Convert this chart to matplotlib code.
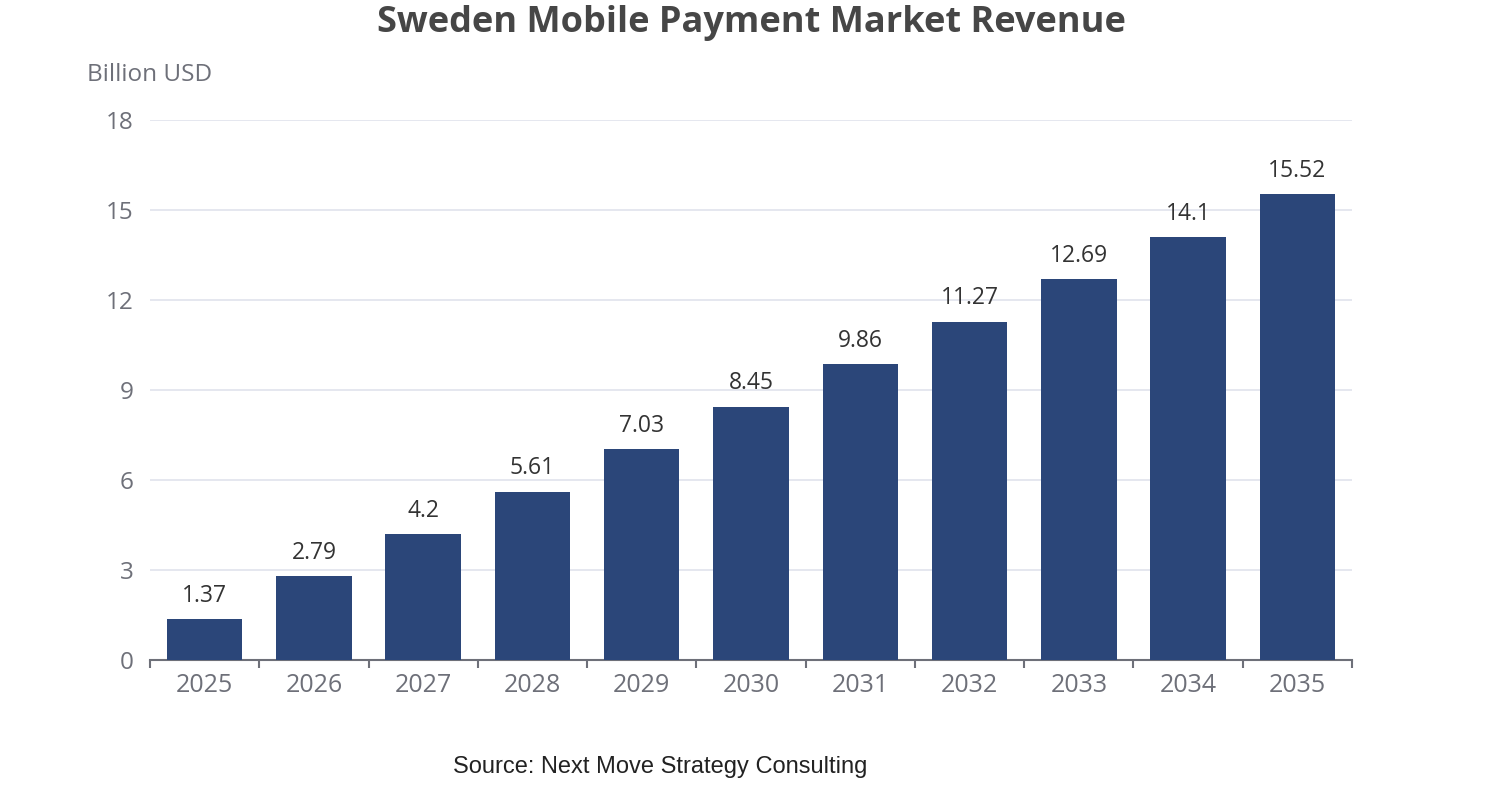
import matplotlib.pyplot as plt
import numpy as np

years = ['2025', '2026', '2027', '2028', '2029', '2030', '2031', '2032', '2033', '2034', '2035']
revenue = [1.37, 2.79, 4.2, 5.61, 7.03, 8.45, 9.86, 11.27, 12.69, 14.1, 15.52]
labels = ['1.37', '2.79', '4.2', '5.61', '7.03', '8.45', '9.86', '11.27', '12.69', '14.1', '15.52']
y_ticks = [0, 3, 6, 9, 12, 15, 18]

plt.rcParams['font.family'] = ['Open Sans', 'DejaVu Sans']

fig = plt.figure(figsize=(15.02, 8), dpi=100)
ax = fig.add_axes([150 / 1502, 140 / 800, 1202 / 1502, 540 / 800])

x = np.arange(len(years))
ax.bar(x, revenue, width=0.69, color='#2b4679', zorder=3)
for xi, v, t in zip(x, revenue, labels):
    ax.text(xi, v + 0.38, t, ha='center', va='bottom', fontsize=16.5, color='#333333')

ax.set_xlim(-0.5, len(years) - 0.5)
ax.set_ylim(0, 18)
ax.set_yticks(y_ticks)
ax.set_yticklabels([str(t) for t in y_ticks])
ax.yaxis.grid(True, color='#e0e3ec', linewidth=1.2, zorder=0)
ax.tick_params(axis='y', length=0, pad=12, labelsize=17.5, labelcolor='#6e7079')

# category ticks sit on the boundaries, labels in the middle
ax.set_xticks(np.arange(-0.5, len(years), 1.0))
ax.set_xticklabels([])
ax.set_xticks(x, minor=True)
ax.set_xticklabels(years, minor=True)
ax.tick_params(axis='x', which='major', length=6, width=1.5, color='#6e7079', direction='out')
ax.tick_params(axis='x', which='minor', length=0, pad=9, labelsize=18, labelcolor='#6e7079')

for s in ['top', 'right', 'left']:
    ax.spines[s].set_visible(False)
ax.spines['bottom'].set_color('#6e7079')
ax.spines['bottom'].set_linewidth(1.5)

fig.text(150 / 1502, 1 - 75 / 800, 'Billion USD', ha='center', va='center', fontsize=17.5, color='#6e7079')
fig.text(0.5, 1 - 23 / 800, 'Sweden Mobile Payment Market Revenue', ha='center', va='center',
         fontsize=26, fontweight='bold', color='#464646')
fig.text(660 / 1502, 1 - 767 / 800, 'Source: Next Move Strategy Consulting', ha='center', va='center',
         fontsize=17, color='#222222', family='Liberation Sans')

fig.savefig('out.png', dpi=100, facecolor='white')
